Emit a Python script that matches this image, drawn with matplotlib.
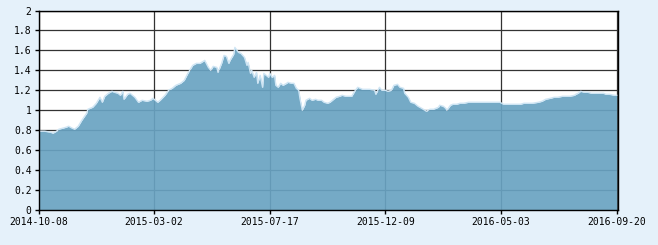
import matplotlib
matplotlib.use("Agg")
import matplotlib.pyplot as plt

# trading-day index and net value
day_idx = [0, 5, 10, 12, 15, 17, 20, 23, 25, 28, 30, 33, 36, 40, 41, 45, 48, 51, 53, 55,
           58, 61, 63, 66, 68, 70, 71, 74, 76, 80, 83, 86,
           90, 93, 95, 99, 101, 105, 108, 111, 114, 118, 121, 124, 128, 131, 134, 138, 141,
           143, 145, 148, 149, 152, 154, 156, 158, 159, 162, 163, 166, 168, 171,
           173, 174, 176, 177, 179, 181, 182, 184, 186, 187, 189, 191, 192, 194, 196, 197,
           199, 201, 203, 206, 207, 210, 212, 214, 216, 217, 219, 221, 222, 225, 227, 230,
           232, 235, 237, 240, 242, 245, 247, 250, 252, 255,
           257, 260, 263, 265, 269, 272, 275, 279, 280, 283, 285, 288, 290, 293, 295, 298,
           300, 303, 304, 307, 309, 312, 315, 318, 322, 325, 328, 332,
           333, 336, 338, 339, 342, 344, 347, 350, 353, 357, 360, 363, 367, 370, 373, 377,
           380, 383, 386, 390, 393, 396, 400, 403, 406,
           410, 415, 418, 421, 425, 428, 431, 435, 438, 441, 445, 446, 448, 450, 453, 456,
           459, 463, 466, 469, 471, 474, 478, 480]
nav = [0.79, 0.79, 0.78, 0.77, 0.79, 0.81, 0.82, 0.83, 0.84, 0.82, 0.81, 0.84, 0.90, 0.97, 1.01, 1.03, 1.07, 1.13, 1.08, 1.14,
       1.17, 1.19, 1.18, 1.17, 1.15, 1.19, 1.11, 1.16, 1.17, 1.13, 1.08, 1.10,
       1.09, 1.10, 1.12, 1.08, 1.10, 1.15, 1.20, 1.22, 1.25, 1.27, 1.30, 1.37, 1.45, 1.47, 1.47, 1.50, 1.43,
       1.40, 1.44, 1.43, 1.38, 1.47, 1.55, 1.54, 1.47, 1.50, 1.56, 1.63, 1.58, 1.57, 1.53,
       1.45, 1.48, 1.37, 1.40, 1.33, 1.38, 1.27, 1.35, 1.23, 1.37, 1.35, 1.33, 1.37, 1.33, 1.35, 1.25,
       1.23, 1.27, 1.25, 1.27, 1.28, 1.27, 1.27, 1.22, 1.20, 1.12, 1.00, 1.05, 1.10, 1.12, 1.10, 1.11,
       1.10, 1.10, 1.08, 1.07, 1.08, 1.11, 1.13, 1.14, 1.15, 1.14,
       1.14, 1.14, 1.20, 1.23, 1.21, 1.21, 1.21, 1.20, 1.16, 1.23, 1.20, 1.20, 1.19, 1.20, 1.25, 1.26,
       1.23, 1.22, 1.17, 1.13, 1.08, 1.07, 1.04, 1.02, 0.99, 1.01, 1.01, 1.03,
       1.05, 1.04, 1.02, 1.00, 1.05, 1.06, 1.06, 1.07, 1.07, 1.08, 1.08, 1.08, 1.08, 1.08, 1.08, 1.08,
       1.08, 1.08, 1.06, 1.06, 1.06, 1.06, 1.06, 1.07, 1.07,
       1.07, 1.08, 1.09, 1.11, 1.12, 1.13, 1.13, 1.14, 1.14, 1.14, 1.15, 1.16, 1.17, 1.19, 1.18, 1.18,
       1.17, 1.17, 1.17, 1.17, 1.16, 1.16, 1.15, 1.15]

tick_pos = [0, 96, 192, 288, 384, 480]
tick_labels = ["2014-10-08", "2015-03-02", "2015-07-17", "2015-12-09", "2016-05-03", "2016-09-20"]
y_ticks = [0, 0.2, 0.4, 0.6, 0.8, 1, 1.2, 1.4, 1.6, 1.8, 2]
y_labels = ["0", "0.2", "0.4", "0.6", "0.8", "1", "1.2", "1.4", "1.6", "1.8", "2"]

plt.rcParams["font.family"] = ["DejaVu Sans Mono"]
fig = plt.figure(figsize=(6.58, 2.45), dpi=100, facecolor="#E5F1FA")
ax = fig.add_axes([38.5 / 658, 35 / 245, 579 / 658, 199.5 / 245])
ax.set_facecolor("white")

# grid first, area drawn over it slightly transparent
ax.set_axisbelow(True)
ax.grid(True, color="#333333", linewidth=0.9)
ax.fill_between(day_idx, nav, 0, color="#69A3C2", alpha=0.92, linewidth=0, zorder=2)
ax.plot(day_idx, nav, color="#CFE5F4", linewidth=1.0, zorder=3)

ax.set_xlim(0, 480.6)
ax.set_ylim(0, 2)
ax.set_xticks(tick_pos)
ax.set_xticklabels(tick_labels)
ax.set_yticks(y_ticks)
ax.set_yticklabels(y_labels)
ax.tick_params(direction="out", length=3, width=1, colors="black", labelsize=7, pad=2)

for s in ax.spines.values():
    s.set_color("black")
    s.set_linewidth(1.0)
    s.set_zorder(4)

fig.savefig("out.png", dpi=100, facecolor=fig.get_facecolor())
